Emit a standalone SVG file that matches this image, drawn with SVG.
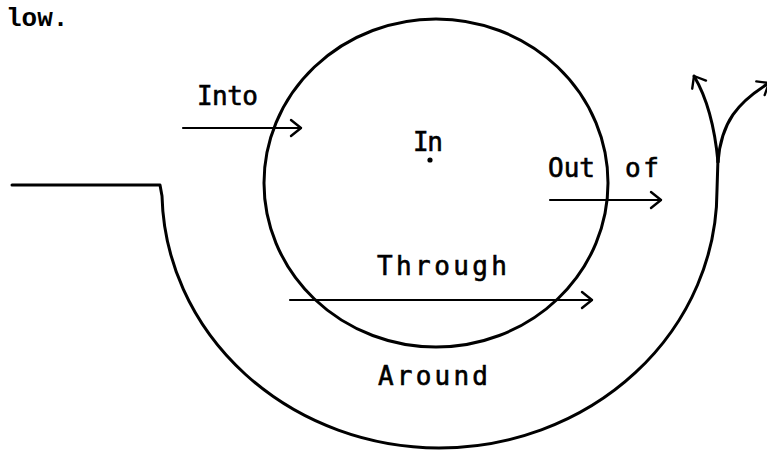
<svg xmlns="http://www.w3.org/2000/svg" width="767" height="450" viewBox="0 0 767 450">
<style>
.line{fill:none;stroke:#000;stroke-width:3;stroke-linecap:round;stroke-linejoin:round}
.arr{fill:none;stroke:#000;stroke-width:2.2;stroke-linecap:round}
.lbl{font-family:"DejaVu Sans Mono","Liberation Mono",monospace;font-size:26px;fill:#000;stroke:#000;stroke-width:0.6}
.type{font-family:"Liberation Mono","DejaVu Sans Mono",monospace;font-size:26px;font-weight:bold;fill:#000}
</style>
<defs>
<marker id="open" markerUnits="userSpaceOnUse" markerWidth="14" markerHeight="20" refX="10" refY="8" orient="auto" overflow="visible">
<path d="M0,0 L10,8 L0,16" fill="none" stroke="#000" stroke-width="2.4" stroke-linecap="round" stroke-linejoin="round"/>
</marker>
</defs>
<rect width="767" height="450" fill="#fff"/>
<text class="type" x="6" y="26">low.</text>
<g id="circle">
<ellipse class="line" cx="436" cy="183" rx="172" ry="164"/>
<circle cx="430" cy="160" r="2.6" fill="#000"/>
</g>
<g id="around-path">
<path class="line" d="M12 185 L160 185 L162 196 A278 258 0 0 0 439 448 A278 258 0 0 0 717 190 L718 158"/>
</g>
<g id="connectors">
<path class="arr" d="M183 128 L301 128" marker-end="url(#open)"/>
<path class="arr" d="M550 200 L661 200" marker-end="url(#open)"/>
<path class="arr" d="M290 300 L592 300" marker-end="url(#open)"/>
<path class="line" d="M718 162 Q713 108 694 76" marker-end="url(#open)"/>
<path class="line" d="M718 162 C721 122 738 102 769 83" marker-end="url(#open)"/>
</g>
<g id="labels">
<text class="lbl" x="197" y="105" textLength="61" lengthAdjust="spacing">Into</text>
<text class="lbl" x="413" y="151" textLength="30" lengthAdjust="spacing">In</text>
<text class="lbl" x="548" y="177">Out</text>
<text class="lbl" x="625" y="177" textLength="34" lengthAdjust="spacing">of</text>
<text class="lbl" x="377" y="275" textLength="130" lengthAdjust="spacing">Through</text>
<text class="lbl" x="378" y="385" textLength="110" lengthAdjust="spacing">Around</text>
</g>
</svg>
